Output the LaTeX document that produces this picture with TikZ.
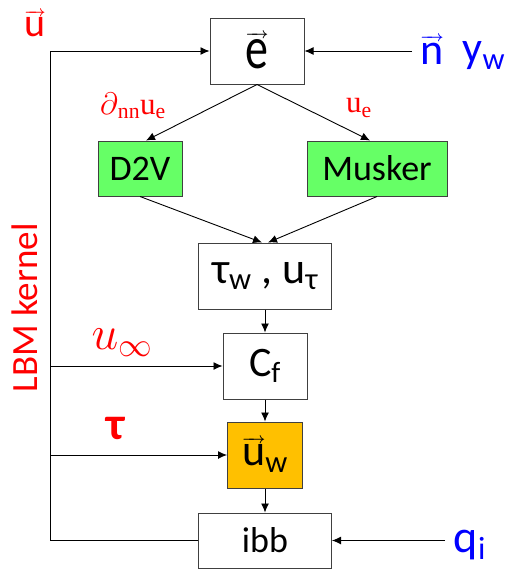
\RequirePackage{fix-cm}
\documentclass[tikz,border=0pt]{standalone}
\usepackage{amsmath}
\usepackage{graphicx}
\usepackage[no-math]{fontspec}
\setmainfont{Carlito}
\newfontfamily\serifcam{Liberation Serif}
\usetikzlibrary{arrows.meta}
\newcommand\myvec[1]{\setbox0\hbox{#1}\vbox{\offinterlineskip\hbox to\wd0{\fontsize{15}{15}\selectfont\boldmath\rightarrowfill}\kern1pt\box0}}
\newcommand\fs[1]{\fontsize{#1}{#1}\selectfont}
\definecolor{boxgreen}{RGB}{102,255,102}
\definecolor{boxorange}{RGB}{255,192,0}
\begin{document}
\begin{tikzpicture}[x=1pt,y=-1pt,
  box/.style={draw=black!75, line width=1pt, inner sep=0pt, fill=white},
  lbl/.style={inner sep=0pt},
  arr/.style={line width=0.9pt, -{Latex[length=9pt,width=8pt]}},
  ln/.style={line width=0.9pt}]
\useasboundingbox (0,0) rectangle (511,573);
% boxes
\node[box, minimum width=94pt, minimum height=66pt, font=\fs{46}] (e) at (257,51) {\myvec{\scalebox{1}[1.3]{e}}};
\node[box, fill=boxgreen, minimum width=84pt, minimum height=55pt, font=\fs{36}] (d2v) at (140,168.5) {D2V};
\node[box, fill=boxgreen, minimum width=140pt, minimum height=55pt, font=\fs{36}] (musk) at (377,168.5) {Musker};
\node[box, minimum width=133pt, minimum height=66pt, font=\fs{44}] (tau) at (265,276) {τ\textsubscript{w} , u\textsubscript{τ}};
\node[box, minimum width=84pt, minimum height=66pt, font=\fs{42}] (cf) at (265,366) {C\textsubscript{f}};
\node[box, fill=boxorange, minimum width=75pt, minimum height=66pt, font=\fs{44}] (uw) at (265,455) {\myvec{u}\textsubscript{w}};
\node[box, minimum width=133pt, minimum height=55pt, font=\fs{36}] (ibb) at (265,540.5) {ibb};
% labels
\node[lbl, text=red, font=\fs{40}] (lu) at (35,24) {\myvec{u}};
\node[lbl, text=blue, font=\fs{44}] (ln) at (432,50) {\myvec{n}};
\node[lbl, text=blue, font=\fs{44}] (lyw) at (484,56) {y\textsubscript{w}};
\node[lbl, text=red, font=\fs{31}] (ld) at (133,106) {$\partial$\textsubscript{\serifcam nn}{\serifcam u\textsubscript{e}}};
\node[lbl, text=red, font=\fs{31}\serifcam] (lue) at (359,108) {u\textsubscript{e}};
\node[lbl, text=red, font=\fs{48}] (luinf) at (122,343) {$u_\infty$};
\node[lbl, text=red, font=\fs{46}\bfseries] (ltau) at (116,428) {τ};
\node[lbl, text=blue, font=\fs{46}] (lq) at (470,545) {q\textsubscript{i}};
\node[lbl, text=red, font=\fs{37}, rotate=90] (lbm) at (25,308) {LBM kernel};
% coordinates
\coordinate (lt) at (50,51);
\coordinate (lb) at (50,540.5);
\coordinate (nr) at (412,51);
\coordinate (qr) at (445,540.5);
% connectors
\draw[arr] (ibb.west) -- (lb) -- (lt) -- (e.west);
\draw[arr] (lt |- cf.west) -- (cf.west);
\draw[arr] (lt |- uw.west) -- (uw.west);
\draw[arr] (nr) -- (e.east);
\draw[arr] (qr) -- (ibb.east);
\draw[arr] (e.south) -- ([xshift=6pt]d2v.north);
\draw[arr] (e.south) -- ([xshift=-7pt]musk.north);
\draw[arr] (d2v.south) -- ([xshift=-3pt]tau.north);
\draw[arr] (musk.south) -- ([xshift=3pt]tau.north);
\draw[arr] (tau.south) -- (cf.north);
\draw[arr] (cf.south) -- (uw.north);
\draw[arr] (uw.south) -- (ibb.north);
\end{tikzpicture}
\end{document}
